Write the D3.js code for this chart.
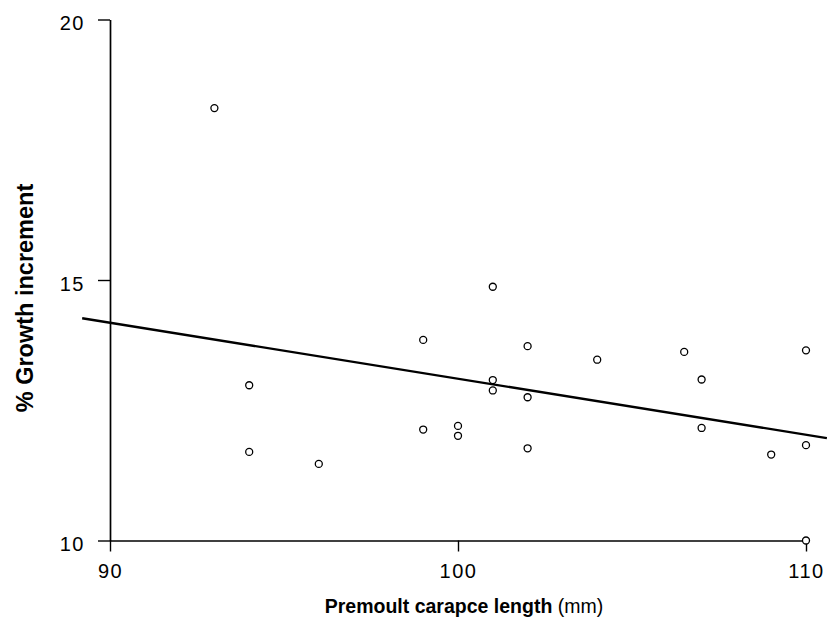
<!DOCTYPE html>
<html>
<head>
<meta charset="utf-8">
<script src="https://cdn.jsdelivr.net/npm/d3@7"></script>
<style>
  html, body { margin: 0; padding: 0; background: #fff; }
  svg { display: block; }
  text { font-family: "Liberation Sans", Arial, Helvetica, sans-serif; fill: #000; }
</style>
</head>
<body>
<svg id="chart" width="827" height="624"></svg>
<script>
// Premoult carapace length (mm) and % growth increment for each animal
const lengthMm = [93, 94, 94, 96, 99, 99, 100, 100, 101, 101, 101, 102, 102, 102, 104, 106.5, 107, 107, 109, 110, 110, 110];
const growthPct = [18.30, 12.98, 11.70, 11.47, 13.85, 12.13, 12.20, 12.01, 14.87, 13.08, 12.88, 13.73, 12.75, 11.77, 13.47, 13.62, 13.09, 12.16, 11.65, 13.65, 11.83, 10.00];

// Least-squares fit: growth = intercept + slope * length
const fitCoef = [23.855, -0.1075];
const fitRange = [89.2, 110.6];

const xTicks = [90, 100, 110];
const yTicks = [10, 15, 20];

const svg = d3.select("#chart");

const x = d3.scaleLinear().domain([90, 110]).range([110, 806]);
const y = d3.scaleLinear().domain([10, 20]).range([540.5, 19.5]);

// Axes
const xAxis = d3.axisBottom(x).tickValues(xTicks).tickSize(11).tickSizeOuter(0).tickPadding(6);
const yAxis = d3.axisLeft(y).tickValues(yTicks).tickSize(12).tickSizeOuter(0).tickPadding(13);

const gx = svg.append("g").attr("transform", `translate(0,${y(10)})`).call(xAxis);
const gy = svg.append("g").attr("transform", `translate(${x(90)},0)`).call(yAxis);

[gx, gy].forEach(g => {
  g.select(".domain").attr("stroke", "#000").attr("stroke-width", 1.7);
  g.selectAll(".tick line").attr("stroke", "#000").attr("stroke-width", 1.4);
  g.selectAll(".tick text")
    .attr("font-size", 20)
    .attr("font-family", "'Liberation Sans', Arial, sans-serif")
    .attr("letter-spacing", 1.5)
    .attr("fill", "#000");
});
gx.selectAll(".tick text").attr("dy", "0.71em").attr("y", 23);
gy.selectAll(".tick text").attr("dy", "0.32em").attr("y", 4);

// Regression line
const fitLine = d3.line().x(d => x(d)).y(d => y(fitCoef[0] + fitCoef[1] * d));
svg.append("path")
  .attr("d", fitLine(fitRange))
  .attr("fill", "none")
  .attr("stroke", "#000")
  .attr("stroke-width", 2.4);

// Observations
svg.append("g")
  .selectAll("circle")
  .data(lengthMm.map((v, i) => [v, growthPct[i]]))
  .join("circle")
  .attr("cx", d => x(d[0]))
  .attr("cy", d => y(d[1]))
  .attr("r", 3.5)
  .attr("fill", "#fff")
  .attr("stroke", "#000")
  .attr("stroke-width", 1.3);

// Axis titles
const xt = svg.append("text")
  .attr("x", 464)
  .attr("y", 613)
  .attr("text-anchor", "middle")
  .attr("font-size", 19.5);
xt.append("tspan").attr("font-weight", "bold").text("Premoult carapce length");
xt.append("tspan").text(" (mm)");

svg.append("text")
  .attr("transform", "translate(33,298) rotate(-90)")
  .attr("text-anchor", "middle")
  .attr("font-size", 23.5)
  .attr("font-weight", "bold")
  .text("% Growth increment");
</script>
</body>
</html>
